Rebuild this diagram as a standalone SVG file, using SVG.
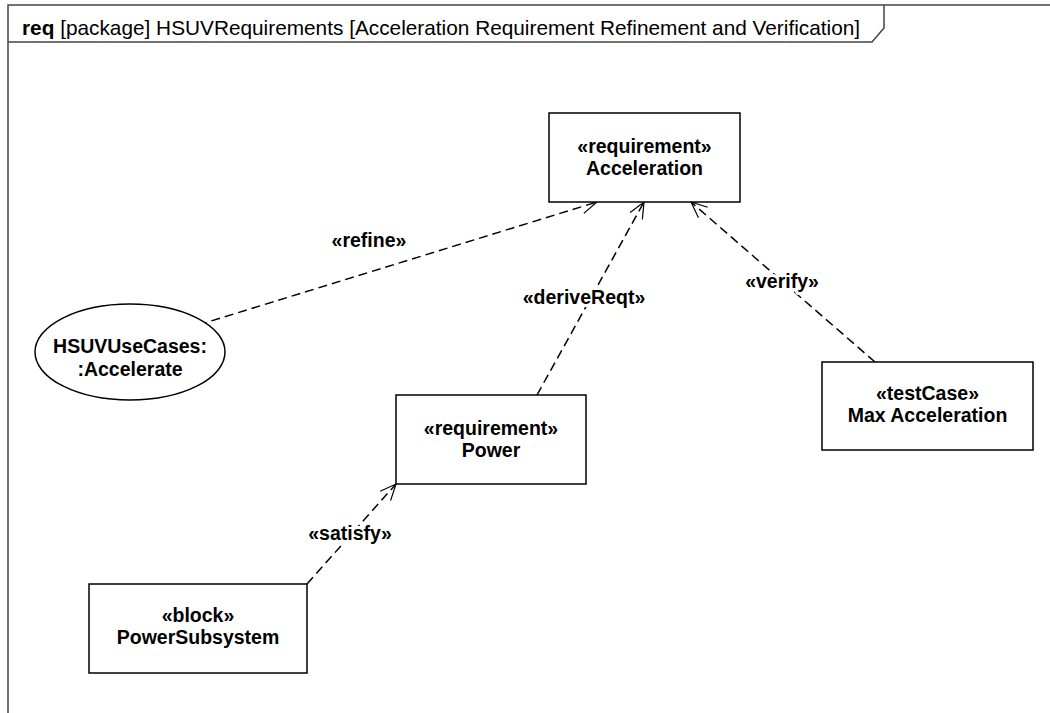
<svg xmlns="http://www.w3.org/2000/svg" width="1050" height="713" viewBox="0 0 1050 713">
<style>
text{font-family:"Liberation Sans",Arial,sans-serif;fill:#000}
.t{font-size:19.5px;font-weight:bold;text-anchor:middle}
.lbl{font-size:19.5px;font-weight:bold;text-anchor:middle;stroke:#fff;stroke-width:6px;paint-order:stroke;stroke-linejoin:round}
.node{fill:#fff;stroke:#000;stroke-width:1.5}
.dep{fill:none;stroke:#000;stroke-width:1.5;stroke-dasharray:9 5}
.frame{fill:none;stroke:#444;stroke-width:1.5}
</style>
<defs>
<marker id="open" viewBox="0 0 20 20" refX="18" refY="10" markerWidth="20" markerHeight="20" markerUnits="userSpaceOnUse" orient="auto">
<path d="M2,3 L18,10 L2,17" fill="none" stroke="#000" stroke-width="1.2"/>
</marker>
</defs>
<rect width="1050" height="713" fill="#fff"/>
<g id="frame">
<path class="frame" d="M8,713 L8,5 L1050,5"/>
<path class="frame" d="M8,42 L872,42 L884,28 L884,5"/>
<text x="22" y="35" style="font-size:20.8px"><tspan font-weight="bold">req</tspan> [package] HSUVRequirements [Acceleration Requirement Refinement and Verification]</text>
</g>
<g id="connectors">
<line class="dep" x1="198" y1="325" x2="597" y2="202" marker-end="url(#open)"/>
<line class="dep" x1="537" y1="395" x2="644" y2="202" marker-end="url(#open)"/>
<line class="dep" x1="875" y1="362" x2="691" y2="202" marker-end="url(#open)"/>
<line class="dep" x1="307" y1="584" x2="396" y2="484" marker-end="url(#open)"/>
<text class="lbl" x="369" y="247">«refine»</text>
<text class="lbl" x="584" y="304">«deriveReqt»</text>
<text class="lbl" x="782" y="288">«verify»</text>
<text class="lbl" x="350" y="540">«satisfy»</text>
</g>
<g id="acceleration">
<rect class="node" x="549" y="113" width="191" height="89"/>
<text class="t" x="644.5" y="153">«requirement»</text>
<text class="t" x="644.5" y="175">Acceleration</text>
</g>
<g id="usecase">
<ellipse class="node" cx="130" cy="352" rx="95" ry="48" stroke-width="1"/>
<text class="t" x="130" y="353">HSUVUseCases:</text>
<text class="t" x="130" y="376">:Accelerate</text>
</g>
<g id="power">
<rect class="node" x="396" y="395" width="190" height="89"/>
<text class="t" x="491" y="435">«requirement»</text>
<text class="t" x="491" y="457">Power</text>
</g>
<g id="powersubsystem">
<rect class="node" x="89" y="584" width="218" height="89"/>
<text class="t" x="198" y="622">«block»</text>
<text class="t" x="198" y="644">PowerSubsystem</text>
</g>
<g id="maxacceleration">
<rect class="node" x="822" y="362" width="211" height="88"/>
<text class="t" x="927.5" y="400">«testCase»</text>
<text class="t" x="927.5" y="422">Max Acceleration</text>
</g>
</svg>
